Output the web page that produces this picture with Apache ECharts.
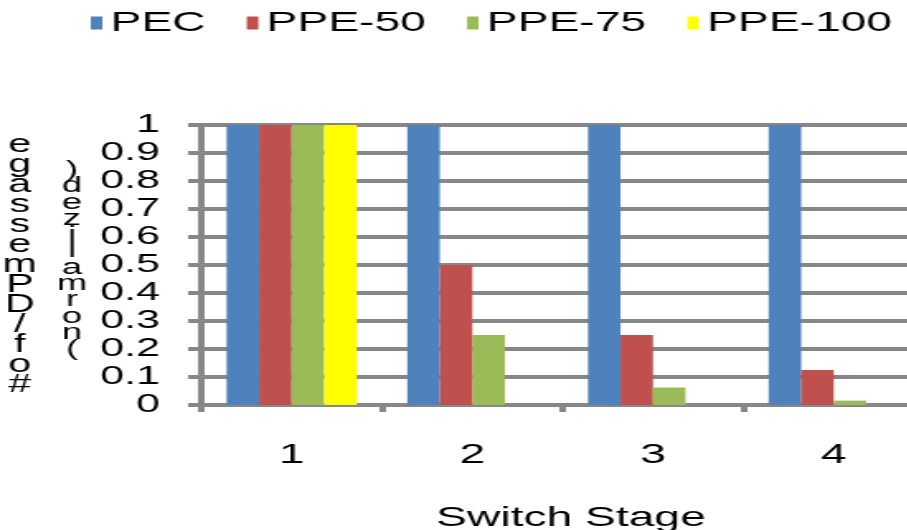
<!DOCTYPE html>
<html>
<head>
<meta charset="utf-8">
<script src="https://cdn.jsdelivr.net/npm/echarts@6/dist/echarts.min.js"></script>
<style>
html,body{margin:0;padding:0;overflow:hidden;background:#fff;width:907px;height:530px;}
#chart{width:570px;height:530px;transform:scaleX(1.65);transform-origin:0 0;}
</style>
</head>
<body>
<div id="chart"></div>
<script>
const categories = ['1', '2', '3', '4'];
const seriesNames = ['PEC', 'PPE-50', 'PPE-75', 'PPE-100'];
const pec = [1, 1, 1, 1];
const ppe50 = [1, 0.5, 0.25, 0.125];
const ppe75 = [1, 0.25, 0.0625, 0.015625];
const ppe100 = [1, 0, 0, 0];
const yTitleLine1 = '# of /DP message';
const yTitleLine2 = '(normalized)';
const xTitle = 'Switch Stage';

const colors = ['#4F81BD', '#C0504D', '#9BBB59', '#FFFF00'];
const font = 'Liberation Sans, Arial, sans-serif';
const gridGray = '#878787';

function stack(s) {
  return s.replace(/ /g, '').split('').reverse().join('\n');
}

const chart = echarts.init(document.getElementById('chart'), null, {renderer: 'canvas'});
const values = [pec, ppe50, ppe75, ppe100];
chart.setOption({
  animation: false,
  color: colors,
  legend: {
    left: 55, top: 9, padding: 0,
    icon: 'rect', itemWidth: 7, itemHeight: 13, itemGap: 25,
    textStyle: {fontFamily: font, fontSize: 28, color: '#000'},
    data: seriesNames
  },
  grid: {left: 122, right: 10, top: 125, bottom: 125, containLabel: false, outerBoundsMode: 'none'},
  xAxis: {
    type: 'category', data: categories,
    axisLine: {lineStyle: {color: gridGray, width: 4}},
    axisTick: {show: true, length: 7, lineStyle: {color: gridGray, width: 4}},
    axisLabel: {fontFamily: font, fontSize: 28, color: '#000', margin: 36},
    name: xTitle, nameLocation: 'middle', nameGap: 99,
    nameTextStyle: {fontFamily: font, fontSize: 28, color: '#000', padding: [0, 0, 0, 10]}
  },
  yAxis: {
    type: 'value', min: 0, max: 1, interval: 0.1,
    axisLine: {show: true, lineStyle: {color: gridGray, width: 4}},
    axisTick: {show: true, length: 8, lineStyle: {color: gridGray, width: 4}},
    splitLine: {show: true, lineStyle: {color: gridGray, width: 4}},
    axisLabel: {fontFamily: font, fontSize: 26, color: '#000', margin: 25},
    name: stack(yTitleLine1), nameLocation: 'middle', nameGap: 110, nameRotate: 0,
    nameTextStyle: {fontFamily: font, fontSize: 25, color: '#000', align: 'center', verticalAlign: 'middle', lineHeight: 20}
  },
  graphic: [{
    type: 'text', x: 43.6, y: 259.5,
    style: {
      text: stack(yTitleLine2), fill: '#000', font: '22px ' + font,
      align: 'center', verticalAlign: 'middle', lineHeight: 16.3
    }
  }],
  series: seriesNames.map((n, i) => ({
    name: n, type: 'bar', data: values[i],
    barGap: '0%', barCategoryGap: '28%'
  }))
});
</script>
</body>
</html>
